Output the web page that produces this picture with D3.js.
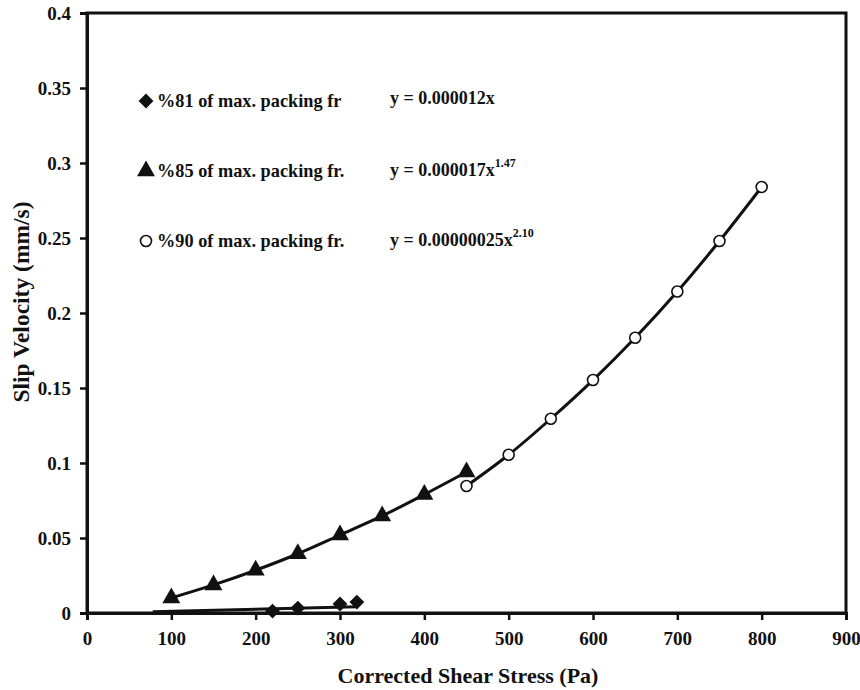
<!DOCTYPE html>
<html>
<head>
<meta charset="utf-8">
<script src="https://cdn.jsdelivr.net/npm/d3@7"></script>
<style>
  body { margin: 0; background: #fff; }
  text { font-family: "Liberation Serif", "Times New Roman", serif; font-weight: bold; fill: #111; }
</style>
</head>
<body>
<script>
// data
var x81 = [220, 250, 300, 320];
var y81 = [0.0013, 0.0033, 0.006, 0.0073];
var fit81x = [78, 320];
var fit81y = [0.0009, 0.0042];

var x85 = [100, 150, 200, 250, 300, 350, 400, 450];
var y85 = [0.010, 0.0187, 0.0285, 0.0395, 0.052, 0.0647, 0.079, 0.094];

var x90 = [450, 500, 550, 600, 650, 700, 750, 800];
var y90 = [0.0847, 0.1055, 0.1295, 0.1553, 0.1835, 0.2143, 0.248, 0.284];

var xTicks = [0, 100, 200, 300, 400, 500, 600, 700, 800, 900];
var yTicks = [0, 0.05, 0.1, 0.15, 0.2, 0.25, 0.3, 0.35, 0.4];
var yTickLabels = ["0", "0.05", "0.1", "0.15", "0.2", "0.25", "0.3", "0.35", "0.4"];

var legendNames = ["%81 of max. packing fr", "%85 of max. packing fr.", "%90 of max. packing fr."];
var eqCoef = ["y = 0.000012x", "y = 0.000017x", "y = 0.00000025x"];
var eqPow = ["", "1.47", "2.10"];

var width = 860, height = 690;
var pLeft = 87, pRight = 846, pTop = 13, pBottom = 613;

var svg = d3.select("body").append("svg").attr("width", width).attr("height", height);

var x = d3.scaleLinear().domain([0, 900]).range([pLeft, pRight]);
var y = d3.scaleLinear().domain([0, 0.4]).range([pBottom, pTop]);

// frame
svg.append("rect")
  .attr("x", pLeft).attr("y", pTop)
  .attr("width", pRight - pLeft).attr("height", pBottom - pTop)
  .attr("fill", "none").attr("stroke", "#111").attr("stroke-width", 3);

// axes
var xAxis = svg.append("g")
  .attr("transform", "translate(0," + pBottom + ")")
  .call(d3.axisBottom(x).tickValues(xTicks).tickSize(7).tickPadding(12).tickFormat(d3.format("d")));
var yAxis = svg.append("g")
  .attr("transform", "translate(" + pLeft + ",0)")
  .call(d3.axisLeft(y).tickValues(yTicks).tickSize(7).tickPadding(9).tickFormat((d, i) => yTickLabels[i]));

[xAxis, yAxis].forEach(g => {
  g.select(".domain").attr("stroke", "#111").attr("stroke-width", 3);
  g.selectAll(".tick line").attr("stroke", "#111").attr("stroke-width", 2.5);
  g.selectAll(".tick text").style("font-size", "19px").style("font-family", "Liberation Serif, serif")
    .style("font-weight", "bold").attr("fill", "#111");
});

// axis titles
svg.append("text")
  .attr("x", 468).attr("y", 683)
  .attr("text-anchor", "middle").style("font-size", "22px")
  .text("Corrected Shear Stress (Pa)");
svg.append("text")
  .attr("transform", "translate(29,302) rotate(-90)")
  .attr("text-anchor", "middle").style("font-size", "23.5px")
  .text("Slip Velocity (mm/s)");

// trend lines
var line = d3.line().x(d => x(d[0])).y(d => y(d[1]));
var curve = d3.line().curve(d3.curveMonotoneX).x(d => x(d[0])).y(d => y(d[1]));

svg.append("path").datum(d3.zip(fit81x, fit81y))
  .attr("d", line).attr("fill", "none").attr("stroke", "#111").attr("stroke-width", 3);
svg.append("path").datum(d3.zip(x85, y85))
  .attr("d", curve).attr("fill", "none").attr("stroke", "#111").attr("stroke-width", 3);
svg.append("path").datum(d3.zip(x90, y90))
  .attr("d", curve).attr("fill", "none").attr("stroke", "#111").attr("stroke-width", 3);

// markers
var diamond = d3.symbol().type(d3.symbolDiamond2).size(140);
var triangle = d3.symbol().type(d3.symbolTriangle).size(140);

svg.append("g").selectAll("path").data(d3.zip(x81, y81)).enter().append("path")
  .attr("d", diamond)
  .attr("transform", d => "translate(" + x(d[0]) + "," + y(d[1]) + ")")
  .attr("fill", "#111");

svg.append("g").selectAll("path").data(d3.zip(x85, y85)).enter().append("path")
  .attr("d", triangle)
  .attr("transform", d => "translate(" + x(d[0]) + "," + y(d[1]) + ")")
  .attr("fill", "#111");

svg.append("g").selectAll("circle").data(d3.zip(x90, y90)).enter().append("circle")
  .attr("cx", d => x(d[0])).attr("cy", d => y(d[1])).attr("r", 5.5)
  .attr("fill", "#fff").attr("stroke", "#111").attr("stroke-width", 1.6);

// legend
var legY = [101, 171, 241];
var leg = svg.append("g");
leg.append("path").attr("d", diamond).attr("transform", "translate(146," + legY[0] + ")").attr("fill", "#111");
leg.append("path").attr("d", triangle).attr("transform", "translate(146," + legY[1] + ")").attr("fill", "#111");
leg.append("circle").attr("cx", 146).attr("cy", legY[2]).attr("r", 5.5)
  .attr("fill", "#fff").attr("stroke", "#111").attr("stroke-width", 1.6);

legendNames.forEach((n, i) => {
  leg.append("text").attr("x", 157).attr("y", legY[i] + 6)
    .style("font-size", "18.3px").text(n);
});

var eqY = [104, 176, 246];
eqCoef.forEach((c, i) => {
  var t = leg.append("text").attr("x", 390).attr("y", eqY[i]).style("font-size", "18px");
  t.append("tspan").text(c);
  if (eqPow[i]) t.append("tspan").attr("dy", -9).style("font-size", "12px").text(eqPow[i]);
});
</script>
</body>
</html>
